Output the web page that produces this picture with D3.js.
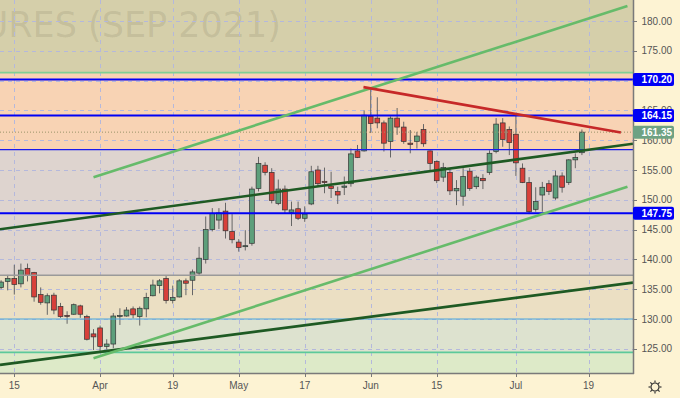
<!DOCTYPE html>
<html>
<head>
<meta charset="utf-8">
<style>
  body { margin: 0; background: #fdf3d3; }
  svg { display: block; font-family: "Liberation Sans", Arial, sans-serif; }
  .grid line { stroke: #b4b8dc; stroke-dasharray: 4,4; stroke-width: 1; }
  .ticklabel { font-size: 10px; fill: #555; }
</style>
</head>
<body>
<svg id="chart" width="680" height="398"></svg>
<script src="https://cdn.jsdelivr.net/npm/d3@7"></script>
<script>
// daily sessions (trading days), with a few empty sessions to the right
const sessions = [
  "2021-03-11","2021-03-12","2021-03-15","2021-03-16","2021-03-17","2021-03-18","2021-03-19",
  "2021-03-22","2021-03-23","2021-03-24","2021-03-25","2021-03-26","2021-03-29","2021-03-30","2021-03-31",
  "2021-04-01","2021-04-05","2021-04-06","2021-04-07","2021-04-08","2021-04-09","2021-04-12","2021-04-13",
  "2021-04-14","2021-04-15","2021-04-16","2021-04-19","2021-04-20","2021-04-21","2021-04-22","2021-04-23",
  "2021-04-26","2021-04-27","2021-04-28","2021-04-29","2021-04-30","2021-05-03","2021-05-04","2021-05-05",
  "2021-05-06","2021-05-07","2021-05-10","2021-05-11","2021-05-12","2021-05-13","2021-05-14","2021-05-17",
  "2021-05-18","2021-05-19","2021-05-20","2021-05-21","2021-05-24","2021-05-25","2021-05-26","2021-05-27",
  "2021-05-28","2021-06-01","2021-06-02","2021-06-03","2021-06-04","2021-06-07","2021-06-08","2021-06-09",
  "2021-06-10","2021-06-11","2021-06-14","2021-06-15","2021-06-16","2021-06-17","2021-06-18","2021-06-21",
  "2021-06-22","2021-06-23","2021-06-24","2021-06-25","2021-06-28","2021-06-29","2021-06-30","2021-07-01",
  "2021-07-02","2021-07-06","2021-07-07","2021-07-08","2021-07-09","2021-07-12","2021-07-13","2021-07-14",
  "2021-07-15","2021-07-16",
  "2021-07-19","2021-07-20","2021-07-21","2021-07-22","2021-07-23"
]

const open = [135.3,136.3,136.8,135.9,138.5,137.8,134.1,132.7,134.0,132.1,130.6,130.8,132.2,130.4,127.5,
  128.5,125.4,125.8,130.5,130.5,131.7,130.4,131.7,133.9,135.6,136.8,133.1,133.7,136.4,136.5,137.7,
  140.0,145.0,146.6,148.1,144.7,142.9,142.2,142.7,151.9,155.8,154.6,149.4,151.8,147.9,148.5,146.9,
  149.3,155.0,153.1,152.3,151.4,152.1,152.7,158.2,158.2,164.0,163.7,162.9,159.8,163.7,162.2,159.5,
  159.8,161.8,158.2,156.4,153.8,154.6,151.5,150.6,154.8,152.2,153.6,154.6,158.1,162.9,161.8,161.0,
  155.3,152.9,148.4,150.8,152.7,150.3,154.0,152.9,156.7,157.9]
const high = [136.5,137.4,139.1,139.3,139.3,137.9,135.3,134.3,134.4,132.7,131.3,132.6,132.4,130.7,128.3,
  128.9,126.6,131.0,131.8,132.0,132.1,132.1,134.4,136.6,136.7,137.2,135.6,136.7,136.8,138.3,142.1,
  147.2,148.6,148.6,149.5,147.6,143.4,144.9,152.2,157.2,156.3,155.3,153.4,152.4,149.7,149.7,148.9,
  155.7,155.7,155.4,154.7,152.2,153.9,158.6,159.2,165.0,168.9,167.2,163.3,164.0,165.4,163.1,161.7,
  161.4,162.7,158.3,156.6,156.2,155.3,153.3,155.3,155.3,154.1,154.3,158.3,163.7,163.7,162.3,164.5,
  156.1,153.8,152.1,153.0,153.3,154.9,154.6,156.8,157.8,161.8]
const low = [135.0,134.8,134.1,135.3,136.3,132.9,132.4,130.7,130.8,130.2,129.2,130.7,130.2,126.4,124.8,
  124.5,124.9,125.1,129.0,130.4,130.1,128.9,130.3,133.8,134.3,132.6,132.6,133.6,134.0,134.0,137.4,
  139.3,144.7,145.1,143.5,142.7,141.3,141.5,142.3,151.4,154.1,149.4,149.1,147.7,145.6,146.6,146.3,
  149.1,152.2,151.1,150.3,149.3,150.8,152.2,157.0,158.1,161.2,162.0,158.1,157.1,160.9,159.4,157.8,
  158.6,158.9,154.9,152.8,153.0,150.8,149.1,149.0,151.5,151.8,151.8,154.2,157.8,158.9,157.5,154.0,
  152.8,147.6,148.0,148.0,150.8,150.0,151.2,152.5,155.3,157.5]
const close = [136.2,136.8,135.8,138.2,137.3,133.7,132.8,133.9,131.5,130.4,130.5,132.4,130.8,126.6,127.0,
  125.4,125.8,130.5,130.6,131.5,130.7,131.8,133.6,135.7,136.4,133.1,133.6,136.4,136.0,137.9,140.2,
  145.0,147.7,147.8,144.8,143.3,142.0,142.3,151.8,156.1,154.6,149.9,151.8,148.3,148.3,146.9,147.6,
  154.7,152.7,152.9,151.9,150.8,152.3,157.7,157.1,164.2,162.8,162.9,159.5,163.7,162.2,159.8,159.3,
  160.7,159.4,156.1,153.2,155.4,151.5,151.9,153.9,151.9,153.8,153.2,157.8,162.7,160.1,159.6,156.2,
  152.9,148.0,149.7,152.1,151.4,154.0,152.1,156.7,157.1,161.35]

const xTickDates = ["2021-03-15","2021-04-01","2021-04-19","2021-05-03","2021-05-17","2021-06-01","2021-06-15","2021-07-01","2021-07-19"]
const xTickLabels = ["15","Apr","19","May","17","Jun","15","Jul","19"]
const priceTicks = [125,130,135,140,145,150,155,160,165,170,175,180]

// shaded zones (price edges, top to bottom)
const zoneEdges = [184, 171.33, 158.4, 137.33, 130.0, 124.4, 120]
// horizontal levels
const levelValues = [171.33, 170.20, 164.15, 161.35, 158.4, 147.75, 137.33, 130.0, 124.4]
const labelValues = [170.20, 164.15, 161.35, 147.75]
// trend lines: [session index, price] pairs
const trendFrom = [[-0.17,145.05],[-0.17,122.3],[14,153.8],[14,123.4],[54.9,168.9]]
const trendTo   = [[95.74,159.4],[95.74,136.1],[94.9,182.5],[94.9,152.2],[93.9,161.3]]

const plotW = 633, plotH = 373
const svg = d3.select("#chart")

const x = d3.scaleLinear().domain([-0.167, 95.74]).range([0, plotW])
const y = d3.scaleLinear().domain([120.94, 183.52]).range([plotH, 0])

svg.append("defs").append("clipPath").attr("id","plotclip")
   .append("rect").attr("width", plotW).attr("height", plotH)

let plot = svg.append("g").attr("clip-path","url(#plotclip)")

// zones
const zoneColors = ["#d5cfaa","#f8d3b4","#ded4cf","#ebdfc3","#dde2cf","#ddeac8"]
plot.append("g").selectAll("rect")
    .data(d3.pairs(zoneEdges))
    .enter().append("rect")
      .attr("x", 0).attr("width", plotW)
      .attr("y", d => y(d[0]))
      .attr("height", d => y(d[1]) - y(d[0]))
      .attr("fill", (d,i) => zoneColors[i])

// watermark
plot.append("text")
    .attr("x", 281).attr("y", 37)
    .attr("text-anchor","end")
    .style("font-family","'DejaVu Sans', sans-serif")
    .style("font-size","35px")
    .attr("fill","rgba(90,85,60,0.14)")
    .text("FEEDER CATTLE FUTURES (SEP 2021)")

// grid
let grid = plot.append("g").attr("class","grid")
grid.selectAll(".h").data(priceTicks).enter().append("line")
    .attr("x1",0).attr("x2",plotW)
    .attr("y1", d => Math.round(y(d))+0.5).attr("y2", d => Math.round(y(d))+0.5)
grid.selectAll(".v").data(xTickDates).enter().append("line")
    .attr("y1",0).attr("y2",plotH)
    .attr("x1", d => Math.round(x(sessions.indexOf(d)))+0.5)
    .attr("x2", d => Math.round(x(sessions.indexOf(d)))+0.5)

// candles
const candles = close.map((c,i) => ({i:i, o:open[i], h:high[i], l:low[i], c:c}))
let cg = plot.append("g").selectAll("g").data(candles).enter().append("g")
cg.append("line")
  .attr("x1", d => x(d.i)).attr("x2", d => x(d.i))
  .attr("y1", d => y(d.h)).attr("y2", d => y(d.l))
  .attr("stroke","#666").attr("stroke-width",1)
cg.append("rect")
  .attr("x", d => x(d.i) - 2.4).attr("width", 4.8)
  .attr("y", d => y(Math.max(d.o,d.c)))
  .attr("height", d => Math.max(1, Math.abs(y(d.o) - y(d.c))))
  .attr("fill", d => d.c >= d.o ? "#5d9f7b" : "#d8403a")
  .attr("stroke","#333").attr("stroke-width",0.7)

// levels
const levelColors = ["#7fcf95","#0000f5","#0000f5","#9b9468","#1a1aee","#0000f5","#9a9a9a","#4ba6dc","#5cc99a"]
const levelWidths = [1.6,2,2,1,1.2,2,1.6,1.2,1.6]
plot.append("g").selectAll("line").data(levelValues).enter().append("line")
    .attr("x1",0).attr("x2",plotW)
    .attr("y1", d => y(d)).attr("y2", d => y(d))
    .attr("stroke", (d,i) => levelColors[i])
    .attr("stroke-width", (d,i) => levelWidths[i])
    .attr("stroke-dasharray", (d,i) => i == 3 ? "1,2" : null)

// trend lines
const trendColors = ["#1e5a23","#1e5a23","#66bb6a","#66bb6a","#c62828"]
plot.append("g").selectAll("line").data(trendFrom).enter().append("line")
    .attr("x1", d => x(d[0])).attr("y1", d => y(d[1]))
    .attr("x2", (d,i) => x(trendTo[i][0])).attr("y2", (d,i) => y(trendTo[i][1]))
    .attr("stroke", (d,i) => trendColors[i])
    .attr("stroke-width", 2.6)

// axes
svg.append("line").attr("x1",plotW+0.5).attr("x2",plotW+0.5).attr("y1",0).attr("y2",plotH+1)
   .attr("stroke","#7a7a7a").attr("stroke-width",1.5)
svg.append("line").attr("x1",0).attr("x2",plotW+1).attr("y1",plotH+0.5).attr("y2",plotH+0.5)
   .attr("stroke","#7a7a7a").attr("stroke-width",1.5)

let yAxis = svg.append("g")
yAxis.selectAll("line").data(priceTicks).enter().append("line")
    .attr("x1",plotW).attr("x2",plotW+4)
    .attr("y1", d => Math.round(y(d))+0.5).attr("y2", d => Math.round(y(d))+0.5)
    .attr("stroke","#7a7a7a")
yAxis.selectAll("text").data(priceTicks).enter().append("text")
    .attr("class","ticklabel")
    .attr("x", 641.5).attr("y", d => y(d) + 3.6)
    .text(d => d.toFixed(2))

let xAxis = svg.append("g")
xAxis.selectAll("line").data(xTickDates).enter().append("line")
    .attr("x1", d => Math.round(x(sessions.indexOf(d)))+0.5)
    .attr("x2", d => Math.round(x(sessions.indexOf(d)))+0.5)
    .attr("y1",plotH).attr("y2",plotH+4)
    .attr("stroke","#7a7a7a")
xAxis.selectAll("text").data(xTickDates).enter().append("text")
    .attr("class","ticklabel")
    .attr("text-anchor","middle")
    .attr("x", d => x(sessions.indexOf(d)))
    .attr("y", 388.5)
    .text((d,i) => xTickLabels[i])

// price labels on the axis
const labelColors = ["#0000f5","#0000f5","#6ea283","#0000f5"]
let pl = svg.append("g").selectAll("g").data(labelValues).enter().append("g")
pl.append("rect")
  .attr("x", plotW).attr("width", 41)
  .attr("y", d => y(d) - 6.5).attr("height", 13)
  .attr("rx", 2)
  .attr("fill", (d,i) => labelColors[i])
pl.append("text")
  .attr("x", 641.5).attr("y", d => y(d) + 3.6)
  .style("font-size","10px").style("font-weight","bold")
  .attr("fill","#fff")
  .text(d => d.toFixed(2))

// settings icon
let icon = svg.append("g").attr("transform","translate(655,387)")
icon.append("circle").attr("r",4).attr("fill","none").attr("stroke","#333").attr("stroke-width",1.2)
icon.selectAll("line").data(d3.range(8)).enter().append("line")
    .attr("x1", d => 4.5*Math.cos(d*Math.PI/4)).attr("y1", d => 4.5*Math.sin(d*Math.PI/4))
    .attr("x2", d => 6.5*Math.cos(d*Math.PI/4)).attr("y2", d => 6.5*Math.sin(d*Math.PI/4))
    .attr("stroke","#333").attr("stroke-width",1.2)
</script>
</body>
</html>
